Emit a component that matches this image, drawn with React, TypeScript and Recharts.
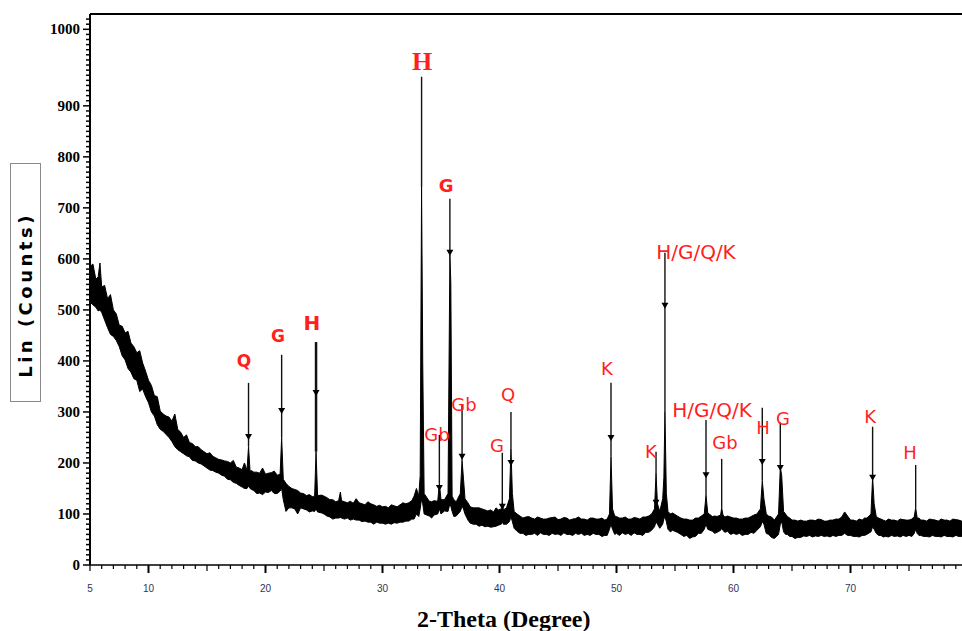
import React from 'react'
import { ComposedChart, Area, XAxis, YAxis, ReferenceLine, ReferenceDot, Label } from 'recharts'

// background scan: [2-theta, lower edge, upper edge] of the noise band
const background: [number, number, number][] = [
  [5.0, 515, 585], [5.5, 505, 560], [5.85, 500, 592], [6.0, 495, 545], [6.5, 465, 522],
  [7.0, 448, 500], [7.5, 428, 470], [8.0, 402, 455], [8.5, 378, 435], [9.0, 362, 416],
  [9.5, 345, 396], [10.0, 318, 362], [10.5, 292, 332], [11.0, 266, 302], [11.5, 256, 292],
  [12.0, 242, 282], [12.5, 226, 266], [13.0, 218, 250], [13.5, 212, 240], [14.0, 204, 232],
  [14.5, 198, 226], [15.0, 190, 218], [15.5, 185, 213], [16.0, 180, 207], [16.5, 174, 204],
  [17.0, 167, 200], [17.5, 160, 192], [18.0, 153, 187], [19.0, 146, 182], [19.5, 141, 180],
  [20.0, 143, 178], [20.5, 146, 181], [21.0, 140, 176], [22.0, 112, 154], [22.5, 110, 148],
  [23.0, 112, 141], [23.5, 108, 136], [24.0, 106, 134], [24.8, 102, 137], [25.0, 100, 135],
  [25.5, 94, 128], [26.0, 92, 124], [26.4, 93, 143], [26.5, 92, 126], [27.0, 92, 122],
  [27.5, 90, 121], [28.0, 88, 122], [28.5, 86, 118], [29.0, 84, 120], [29.5, 84, 115],
  [30.0, 82, 114], [30.5, 82, 112], [31.0, 83, 116], [31.5, 84, 118], [32.0, 86, 120],
  [32.5, 90, 126], [32.9, 100, 150], [34.0, 96, 125], [34.4, 98, 126], [35.3, 106, 128],
  [36.3, 96, 124], [37.5, 82, 114], [38.0, 80, 112], [38.5, 78, 110], [39.0, 76, 106],
  [39.5, 75, 104], [39.9, 78, 108], [40.6, 80, 112], [41.5, 66, 100], [42.0, 62, 92],
  [42.5, 60, 95], [43.0, 62, 90], [43.5, 63, 92], [44.0, 60, 90], [44.5, 62, 93],
  [45.0, 61, 89], [45.5, 63, 93], [46.0, 60, 88], [46.5, 62, 91], [47.0, 62, 90],
  [47.5, 60, 88], [48.0, 62, 92], [48.5, 60, 90], [49.0, 58, 88], [50.0, 62, 95],
  [50.5, 63, 92], [51.0, 62, 90], [51.5, 63, 93], [52.0, 60, 90], [52.5, 64, 94],
  [53.0, 68, 100], [54.8, 68, 102], [55.2, 64, 96], [55.5, 60, 92], [56.0, 58, 90],
  [56.5, 55, 88], [57.0, 62, 92], [58.2, 66, 95], [58.6, 64, 95], [59.5, 66, 96],
  [60.0, 62, 92], [60.5, 62, 90], [61.0, 60, 92], [61.5, 64, 95], [62.0, 68, 100],
  [63.0, 60, 96], [63.5, 52, 88], [64.6, 60, 95], [65.0, 56, 88], [65.5, 54, 86],
  [66.0, 57, 86], [66.5, 58, 88], [67.0, 57, 87], [67.5, 58, 89], [68.0, 57, 86],
  [68.5, 58, 88], [69.0, 58, 90], [69.5, 62, 104], [70.0, 58, 88], [70.5, 56, 86],
  [71.0, 58, 88], [71.4, 60, 92], [72.6, 58, 90], [73.0, 56, 86], [73.5, 58, 88],
  [74.0, 57, 86], [74.5, 58, 89], [75.0, 58, 88], [76.0, 58, 88], [76.5, 56, 86],
  [77.0, 58, 89], [77.5, 56, 86], [78.0, 58, 88], [78.5, 56, 86], [79.0, 58, 89],
  [79.5, 56, 86], [80.0, 58, 88],
]

// extra noise excursions of the band between the points above
const noise: [number, number, number][] = [
  [5.25, 510, 590], [5.7, 498, 565], [6.25, 480, 548], [6.75, 452, 530], [7.25, 440, 492],
  [7.75, 410, 468], [8.25, 385, 458], [8.75, 365, 428], [9.25, 340, 420], [9.75, 330, 380],
  [10.25, 300, 352], [10.75, 275, 330], [11.25, 262, 296], [11.75, 250, 290], [12.25, 232, 296],
  [12.75, 222, 260], [13.25, 214, 255], [13.75, 205, 238], [14.25, 200, 232], [14.75, 194, 222],
  [15.25, 186, 220], [15.75, 182, 210], [16.25, 176, 206], [16.75, 168, 203], [17.25, 162, 205],
  [17.75, 156, 190], [18.2, 150, 200], [18.8, 148, 185], [19.25, 140, 182], [19.75, 138, 190],
  [20.25, 142, 180], [20.75, 140, 184], [21.75, 105, 160], [22.25, 112, 150], [22.75, 100, 146],
  [23.25, 110, 140], [23.75, 104, 138], [25.25, 96, 132], [25.75, 90, 128], [26.25, 92, 126],
  [26.75, 90, 124], [27.25, 88, 125], [27.75, 88, 130], [28.25, 85, 120], [28.75, 84, 124],
  [29.25, 80, 118], [29.75, 82, 117], [30.25, 80, 115], [30.75, 80, 118], [31.25, 82, 114],
  [31.75, 84, 122], [32.25, 86, 122], [32.7, 90, 135], [34.2, 92, 124], [36.1, 95, 128],
  [37.3, 88, 122], [37.75, 80, 112], [38.25, 76, 112], [38.75, 75, 108], [39.25, 74, 108],
  [39.7, 76, 112], [41.75, 62, 96], [42.25, 58, 94], [42.75, 60, 92], [43.25, 58, 94],
  [43.75, 60, 90], [44.25, 58, 92], [44.75, 60, 94], [45.25, 58, 90], [45.75, 60, 92],
  [46.25, 58, 90], [46.75, 60, 94], [47.25, 58, 90], [47.75, 58, 92], [48.25, 60, 90],
  [48.75, 56, 92], [49.2, 58, 90], [49.85, 60, 96], [50.25, 58, 92], [50.75, 60, 94],
  [51.25, 58, 90], [51.75, 60, 92], [52.25, 58, 94], [52.75, 64, 96], [53.7, 72, 105],
  [54.6, 65, 100], [55.75, 56, 90], [56.25, 52, 88], [56.75, 56, 92], [57.25, 62, 96],
  [58.4, 62, 96], [59.25, 64, 94], [59.75, 60, 94], [60.25, 60, 92], [60.75, 58, 90],
  [61.25, 60, 92], [61.75, 62, 98], [62.8, 62, 100], [63.25, 54, 94], [64.45, 60, 100],
  [64.8, 56, 92], [65.25, 52, 88], [65.75, 54, 88], [66.25, 56, 86], [66.75, 55, 88],
  [67.25, 56, 90], [67.75, 56, 86], [68.25, 55, 88], [68.75, 56, 90], [69.25, 58, 94],
  [69.75, 58, 96], [70.25, 56, 88], [70.75, 55, 90], [71.2, 58, 92], [72.4, 58, 92],
  [72.8, 55, 88], [73.25, 55, 90], [73.75, 56, 88], [74.25, 55, 90], [74.75, 56, 88],
  [75.25, 56, 90], [75.85, 58, 92], [76.25, 56, 88], [76.75, 55, 90], [77.25, 56, 88],
  [77.75, 55, 90], [78.25, 56, 88], [78.75, 55, 90], [79.25, 56, 88], [79.75, 55, 90],
]

// diffraction peaks: [2-theta, lower edge, upper edge]
const peaks: [number, number, number][] = [
  [18.42, 150, 186], [18.55, 155, 232], [18.68, 150, 184],
  [21.25, 145, 178], [21.38, 150, 250], [21.52, 128, 168],
  [24.2, 105, 135], [24.32, 110, 222], [24.45, 104, 136],
  [33.1, 95, 135], [33.22, 110, 175], [33.34, 130, 741], [33.44, 120, 396], [33.56, 100, 140],
  [34.72, 100, 125], [34.86, 110, 160], [35.0, 100, 128],
  [35.6, 105, 140], [35.76, 120, 608], [35.84, 115, 553], [35.95, 105, 135],
  [36.65, 105, 140], [36.8, 115, 205], [36.92, 110, 170], [37.05, 100, 130],
  [40.15, 80, 110], [40.24, 85, 125], [40.33, 80, 108],
  [40.85, 85, 130], [40.98, 95, 228], [41.1, 85, 140], [41.25, 72, 105],
  [49.4, 70, 100], [49.53, 80, 212], [49.66, 70, 110],
  [53.25, 75, 110], [53.38, 85, 180], [53.5, 80, 120],
  [53.95, 80, 130], [54.05, 90, 172], [54.14, 95, 300], [54.26, 85, 140], [54.4, 70, 105],
  [57.5, 70, 100], [57.65, 80, 137], [57.8, 70, 102],
  [58.9, 68, 98], [58.99, 72, 112], [59.1, 68, 98],
  [62.3, 75, 110], [62.46, 85, 165], [62.6, 80, 130],
  [63.85, 60, 100], [64.0, 80, 192], [64.12, 85, 175], [64.28, 65, 105],
  [71.75, 65, 100], [71.89, 75, 172], [72.02, 70, 120], [72.2, 62, 95],
  [75.45, 62, 95], [75.57, 70, 112], [75.7, 62, 92],
]

// phase markers
const markerText = ['Q', 'G', 'H', 'H', 'Gb', 'G', 'Gb', 'G', 'Q', 'K', 'K', 'H/G/Q/K', 'H/G/Q/K', 'Gb', 'H', 'G', 'K', 'H']
const markerAngle = [18.55, 21.38, 24.32, 33.34, 34.86, 35.76, 36.8, 40.24, 40.98, 49.53, 53.38, 54.14, 57.65, 58.99, 62.46, 64.0, 71.89, 75.57]
const markerTop = [357, 412, 437, 957, 255, 718, 314, 220, 300, 357, 222, 612, 284, 208, 308, 280, 271, 196]
const markerArrow = [251, 302, 337, null, 151, 612, 212, 114, 200, 249, 122, 508, 176, null, 202, 190, 171, null]
const markerBase = [232, 250, 222, 741, 160, 608, 205, 125, 228, 212, 180, 300, 137, 112, 165, 192, 172, 112]
const labelAngle = [18.16, 21.07, 23.97, 33.38, 34.66, 35.43, 36.97, 39.79, 40.73, 49.19, 52.95, 56.79, 58.16, 59.27, 62.52, 64.23, 71.67, 75.09]
const labelCounts = [400, 449, 474, 986, 255, 743, 314, 235, 335, 386, 223, 613, 304, 241, 269, 288, 292, 221]

const xTicks = Array.from({ length: 76 }, (_, i) => 5 + i)
const xLabels = [5, 10, 20, 30, 40, 50, 60, 70, 80]
const yTicks = Array.from({ length: 108 }, (_, i) => i * 10)
const yMajor = [0, 100, 200, 300, 400, 500, 600, 700, 800, 900, 1050]
const yMajorLabels = ['0', '100', '200', '300', '400', '500', '600', '700', '800', '900', '1000']

const rows = [...background, ...noise, ...peaks]
  .sort((a, b) => a[0] - b[0])
  .map(([x, lo, hi]) => ({ x, counts: [lo, hi] }))

const RED = '#ff1f1f'

function labelFont(i: number) {
  if (i === 3) return { fontFamily: 'Liberation Serif', fontWeight: 'bold', fontSize: 26 }
  if (i === 2) return { fontFamily: 'DejaVu Sans', fontWeight: 'bold', fontSize: 20 }
  if (i === 0 || i === 1) return { fontFamily: 'DejaVu Sans', fontWeight: 'bold', fontSize: 17 }
  if (i === 5) return { fontFamily: 'DejaVu Sans', fontWeight: 'bold', fontSize: 18 }
  if (markerText[i].length > 2) return { fontFamily: 'DejaVu Sans', fontWeight: 'normal', fontSize: 20 }
  return { fontFamily: 'DejaVu Sans', fontWeight: 'normal', fontSize: 18 }
}

const XTick = (props: any) => {
  const { x, y, payload } = props
  const v = payload.value
  const len = v % 10 === 0 ? 8 : v % 5 === 0 ? 6 : 4
  const w = v % 10 === 0 ? 2 : 1.2
  return (
    <g>
      <line x1={x} x2={x} y1={y} y2={y + len} stroke="#000" strokeWidth={w} />
      {xLabels.includes(v) && (
        <text x={x} y={y + 23} textAnchor="middle" dominantBaseline="central"
          fontSize={10} fontFamily="Liberation Sans" fill="#333355">{v}</text>
      )}
    </g>
  )
}

const YTick = (props: any) => {
  const { x, y, payload } = props
  const v = payload.value
  const k = yMajor.indexOf(v)
  const len = k >= 0 ? 7 : 4
  return (
    <g>
      <line x1={x - len} x2={x} y1={y} y2={y} stroke="#000" strokeWidth={1.5} />
      {k >= 0 && (
        <text x={x - 10} y={y} textAnchor="end" dominantBaseline="central"
          fontSize={15} fontWeight="bold" fontFamily="Liberation Serif" fill="#000">{yMajorLabels[k]}</text>
      )}
    </g>
  )
}

const Arrow = (props: any) => {
  const { cx, cy } = props
  return <polygon points={`${cx - 3.5},${cy - 3} ${cx + 3.5},${cy - 3} ${cx},${cy + 3}`} fill="#000" />
}

export default function App() {
  return (
    <div style={{ width: 962, height: 631, overflow: 'hidden', position: 'relative', background: '#fff' }}>
      <style>{'body{margin:0}'}</style>
      <ComposedChart width={972} height={631} data={rows} margin={{ top: 14, right: 4.5, bottom: 0, left: 0 }}>
        <XAxis dataKey="x" type="number" domain={[5, 80]} ticks={xTicks} interval={0} height={66}
          tickSize={0} tickMargin={0} tickLine={false} tick={(p: any) => <XTick {...p} />}
          axisLine={{ stroke: '#000', strokeWidth: 1.5 }} allowDataOverflow>
          <Label value="2-Theta (Degree)" position="insideBottom" offset={4} dx={-25}
            fontSize={24} fontWeight="bold" fontFamily="Liberation Serif" fill="#000" />
        </XAxis>
        <YAxis type="number" domain={[0, 1080]} ticks={yTicks} interval={0} width={90}
          tickSize={0} tickMargin={0} tickLine={false} tick={(p: any) => <YTick {...p} />}
          axisLine={{ stroke: '#000', strokeWidth: 2 }} allowDataOverflow />
        <Area type="linear" dataKey="counts" stroke="#000" strokeWidth={1} fill="#000" fillOpacity={1}
          dot={false} activeDot={false} isAnimationActive={false} />
        <ReferenceLine y={1080} stroke="#000" strokeWidth={2} />
        {markerAngle.map((a, i) => (
          <ReferenceLine key={'s' + i} segment={[{ x: a, y: markerTop[i] }, { x: a, y: markerBase[i] }]}
            stroke="#111" strokeWidth={i === 2 ? 2.5 : 1.4} />
        ))}
        {markerAngle.map((a, i) => markerArrow[i] == null ? null : (
          <ReferenceDot key={'a' + i} x={a} y={markerArrow[i] as number} r={3} shape={(p: any) => <Arrow {...p} />} />
        ))}
        {markerText.map((t, i) => (
          <ReferenceDot key={'l' + i} x={labelAngle[i]} y={labelCounts[i]} r={1}
            shape={(p: any) => (
              <text x={p.cx} y={p.cy} textAnchor="middle" dominantBaseline="central" fill={RED} {...labelFont(i)}>{t}</text>
            )} />
        ))}
      </ComposedChart>
      <svg width={60} height={420} style={{ position: 'absolute', left: 0, top: 0, pointerEvents: 'none' }}>
        <rect x={10.5} y={163.5} width={30} height={238} fill="#fff" stroke="#8a8a8a" strokeWidth={1} />
        <text x={25} y={295} transform="rotate(-90 25 295)" textAnchor="middle" dominantBaseline="central"
          fontSize={18} fontWeight="bold" fontFamily="DejaVu Sans" letterSpacing={3.5} fill="#000">Lin (Counts)</text>
      </svg>
    </div>
  )
}
